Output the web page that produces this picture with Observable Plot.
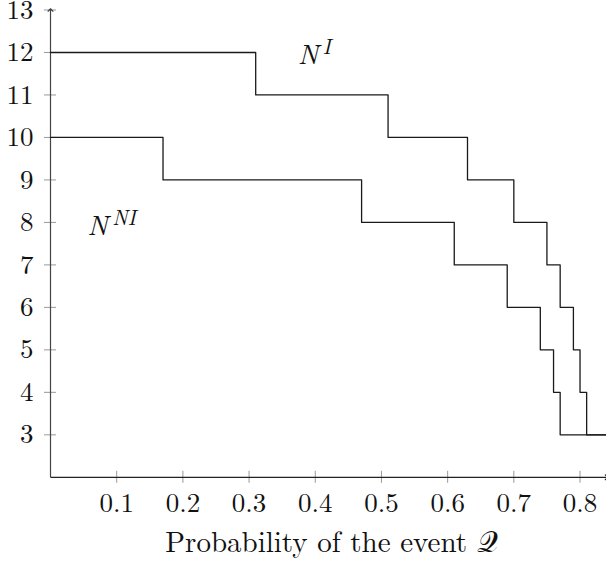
<!DOCTYPE html>
<html><head><meta charset="utf-8">
<script src="https://cdn.jsdelivr.net/npm/d3@7"></script>
<script src="https://cdn.jsdelivr.net/npm/@observablehq/plot@0.6"></script>
<style>
html,body{margin:0;padding:0;background:#fff;}
#chart{position:absolute;left:0;top:0;}
#title{position:absolute;left:50px;width:563px;top:520px;text-align:center;font-size:29px;line-height:40px;padding-top:0px;color:#111;white-space:nowrap;}
</style></head><body>
<div id="chart"></div>
<div id="title">Probability of the event 𝒬</div>
<script>
// Step curve N^I (value holds from each x until the next)
const niProb  = [0, 0.31, 0.51, 0.63, 0.70, 0.75, 0.77, 0.79, 0.80, 0.81, 0.84];
const niCount = [12, 11, 10, 9, 8, 7, 6, 5, 4, 3, 3];
// Step curve N^NI
const nniProb  = [0, 0.17, 0.47, 0.61, 0.69, 0.74, 0.76, 0.77, 0.84];
const nniCount = [10, 9, 8, 7, 6, 5, 4, 3, 3];
// Axis ticks
const xTicks = [0.1, 0.2, 0.3, 0.4, 0.5, 0.6, 0.7, 0.8];
const yTicks = [3, 4, 5, 6, 7, 8, 9, 10, 11, 12, 13];
// Curve labels (base letter, superscript, anchor in data units)
const labelBase = ["N", "N"];
const labelSup = ["I", "NI"];
const labelX = [0.3734, 0.0555];
const labelY = [11.73, 7.713];

const ni = niProb.map((x, i) => ({x, y: niCount[i]}));
const nni = nniProb.map((x, i) => ({x, y: nniCount[i]}));
const labels = labelBase.map((b, i) => ({b, s: labelSup[i], x: labelX[i], y: labelY[i]}));

const FONT = '"Latin Modern Roman", "Liberation Serif", serif';
document.getElementById("title").style.fontFamily = FONT;

const chart = Plot.plot({
  width: 606,
  height: 520,
  marginLeft: 50,
  marginRight: 0,
  marginTop: 9.5,
  marginBottom: 43.2,
  style: {fontFamily: FONT, fontSize: "27px", background: "white", color: "#111", overflow: "visible"},
  x: {domain: [0, 0.84]},
  y: {domain: [2, 13]},
  marks: [
    Plot.axisX({ticks: xTicks, tickSize: 12, dy: -6, tickPadding: 10, stroke: "#999", fill: "#111", fontFamily: FONT, tickFormat: d => d.toFixed(1), label: null}),
    Plot.axisY({ticks: yTicks, tickSize: 12, dx: 6, tickPadding: 11, stroke: "#999", fill: "#111", fontFamily: FONT, tickFormat: d => String(d), label: null}),
    Plot.link([{x1: 0, y1: 2, x2: 0, y2: 13}], {x1: "x1", y1: "y1", x2: "x2", y2: "y2", stroke: "#444", strokeWidth: 1.2, markerEnd: "arrow"}),
    Plot.link([{x1: 0, y1: 2, x2: 0.84, y2: 2}], {x1: "x1", y1: "y1", x2: "x2", y2: "y2", stroke: "#222", strokeWidth: 1.2, markerEnd: "arrow"}),
    Plot.line(ni, {x: "x", y: "y", curve: "step-after", stroke: "#1a1a1a", strokeWidth: 1.3}),
    Plot.line(nni, {x: "x", y: "y", curve: "step-after", stroke: "#1a1a1a", strokeWidth: 1.3}),
    Plot.text(labels, {x: "x", y: "y", text: "b", textAnchor: "start", lineAnchor: "bottom", fontStyle: "italic", fontFamily: FONT, fontSize: 28, fill: "#111"}),
    Plot.text(labels, {x: "x", y: "y", text: "s", textAnchor: "start", lineAnchor: "bottom", fontStyle: "italic", fontFamily: FONT, fontSize: 21, fill: "#111", dx: 25, dy: -10})
  ]
});
document.getElementById("chart").appendChild(chart);
</script>
</body></html>
